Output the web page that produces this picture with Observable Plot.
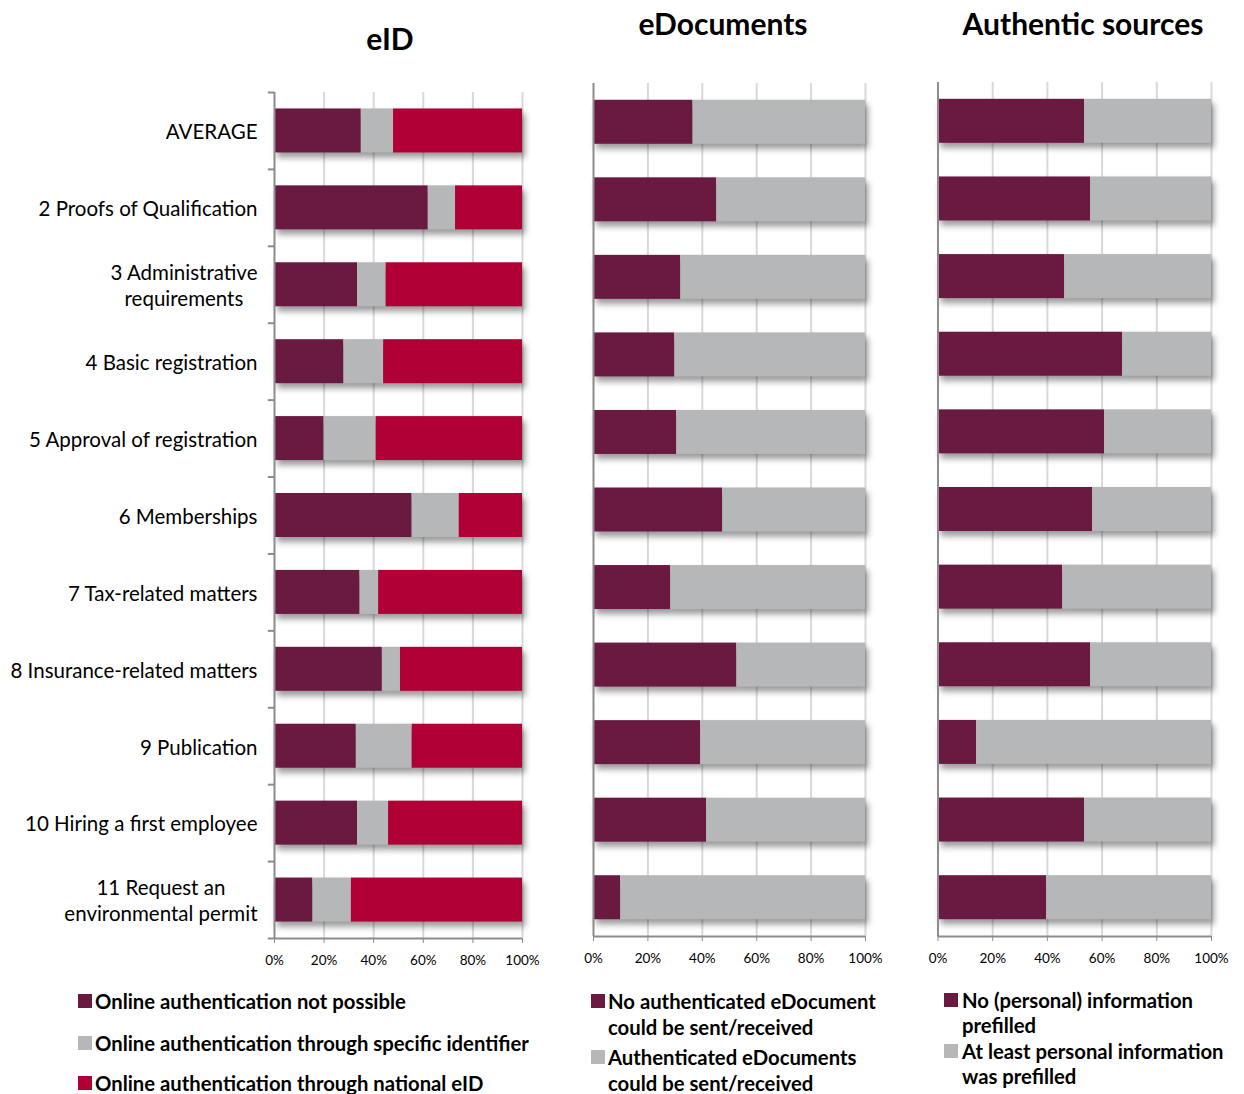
<!DOCTYPE html>
<html><head><meta charset="utf-8">
<script src="https://cdn.jsdelivr.net/npm/d3@7"></script>
<script src="https://cdn.jsdelivr.net/npm/@observablehq/plot@0.6"></script>
<style>
body{margin:0;background:#fff;}
#root{position:relative;width:1244px;height:1094px;overflow:hidden;font-family:Lato,"Open Sans",sans-serif;color:#000}
.panel{position:absolute;top:0}
.title{position:absolute;font-weight:700;font-size:30px;transform:translate(-50%,-50%);white-space:nowrap}
.leg{position:absolute;font-weight:700;font-size:20.3px;line-height:20px;height:20px;white-space:nowrap}
.sw{position:absolute;width:14px;height:14px}
g[aria-label="bar"]{filter:drop-shadow(3px 5px 3px rgba(0,0,0,0.4))}
</style></head>
<body><div id="root"></div>
<script>
const categories = ["AVERAGE","2 Proofs of Qualification","3 Administrative\nrequirements","4 Basic registration","5 Approval of registration","6 Memberships","7 Tax-related matters","8 Insurance-related matters","9 Publication","10 Hiring a first employee","11 Request an\nenvironmental permit"];
const xTicks = [0,20,40,60,80,100];

const eidSeries = ["Online authentication not possible","Online authentication through specific identifier","Online authentication through national eID"];
const eidNotPossible = [35,62,33.5,28,20,55.5,34.5,43.5,33,33.5,15.5];
const eidSpecific   = [13,11,11.5,16,21,19,7.5,7.3,22.5,12.5,15.5];
const eidNational   = [52,27,55,56,59,25.5,58,49.2,44.5,54,69];

const edocSeries = ["No authenticated eDocument\ncould be sent/received","Authenticated eDocuments\ncould be sent/received"];
const edocNo  = [36.6,45.3,32.1,29.9,30.6,47.5,28.4,52.7,39.4,41.6,10];
const edocYes = [63.4,54.7,67.9,70.1,69.4,52.5,71.6,47.3,60.6,58.4,90];

const authSeries = ["No (personal) information\nprefilled","At least personal information\nwas prefilled"];
const authNo  = [53.6,55.8,46.3,67.5,60.9,56.5,45.6,55.8,14.1,53.6,39.7];
const authYes = [46.4,44.2,53.7,32.5,39.1,43.5,54.4,44.2,85.9,46.4,60.3];

const titles = ["eID","eDocuments","Authentic sources"];
const DARK="#6A1A41", GRAY="#B6B7B9", RED="#B10036";

const root = document.getElementById("root");

function long(series, arrays){
  const out=[];
  series.forEach((s,i)=>arrays[i].forEach((v,j)=>out.push({category:categories[j],series:s,value:v})));
  return out;
}

function panel(o){
  const H=975;
  const step=(H-o.mt-o.mb)/categories.length;
  const inset=(step-44)/2;
  const marks=[
    Plot.ruleX([20,40,60,80,100],{stroke:"#d9d9d9",strokeWidth:2}),
    Plot.barX(o.data, Plot.stackX({x:"value",y:"category",fill:"series",order:o.series,insetTop:inset,insetBottom:inset})),
    Plot.ruleX([0],{stroke:"#8c8c8c",strokeWidth:2}),
    Plot.ruleY([categories[categories.length-1]],{x1:0,x2:100,dy:step/2,stroke:"#8c8c8c",strokeWidth:2}),
    Plot.axisX(xTicks,{tickSize:5,tickPadding:12,stroke:"#8c8c8c",fontSize:13.5,label:null,tickFormat:d=>d+"%"})
  ];
  if(o.showY){
    marks.push(Plot.ruleY(categories,{x1:-2.5,x2:0,dy:-step/2,stroke:"#8c8c8c",strokeWidth:2}));
    marks.push(Plot.ruleY([categories[categories.length-1]],{x1:-2.5,x2:0,dy:step/2,stroke:"#8c8c8c",strokeWidth:2}));
    marks.push(Plot.axisY({tickSize:0,tickPadding:17,fontSize:20.5,lineHeight:1.27,label:null}));
  }
  const svg=Plot.plot({
    width:o.width,height:H,
    marginLeft:o.ml,marginRight:o.mr,marginTop:o.mt,marginBottom:o.mb,
    x:{domain:[0,100],axis:null,label:null},
    y:{domain:categories,padding:0,round:false,axis:null,label:null},
    color:{domain:o.series,range:o.colors},
    style:{fontFamily:"Lato, 'Open Sans', sans-serif",color:"#000",background:"transparent",overflow:"visible"},
    marks
  });
  const wrap=document.createElement("div");
  wrap.className="panel";
  wrap.style.left=o.left+"px";
  wrap.appendChild(svg);
  root.appendChild(wrap);
  if(o.showY){
    svg.querySelectorAll('g[aria-label="y-axis tick label"] text').forEach(t=>{
      const sp=[...t.querySelectorAll("tspan")];
      if(sp.length>1){
        const ws=sp.map(s=>s.getComputedTextLength());
        const m=Math.max(...ws);
        sp.forEach((s,i)=>s.setAttribute("x",-(m-ws[i])/2));
      }
    });
  }
}

panel({left:0,width:545,ml:274,mr:23,mt:92,mb:37,showY:true,series:eidSeries,colors:[DARK,GRAY,RED],
  data:long(eidSeries,[eidNotPossible,eidSpecific,eidNational])});
panel({left:560,width:320,ml:33,mr:15,mt:83,mb:39,showY:false,series:edocSeries,colors:[DARK,GRAY],
  data:long(edocSeries,[edocNo,edocYes])});
panel({left:905,width:330,ml:32.5,mr:24,mt:82,mb:39,showY:false,series:authSeries,colors:[DARK,GRAY],
  data:long(authSeries,[authNo,authYes])});

// titles
[[titles[0],390,38],[titles[1],723,23],[titles[2],1083,23]].forEach(([t,x,y])=>{
  const d=document.createElement("div");d.className="title";d.textContent=t;
  d.style.left=x+"px";d.style.top=y+"px";root.appendChild(d);
});

// legends: first-line centre y, line spacing
function legItem(label,color,sx,tx,cy,gap){
  const s=document.createElement("div");s.className="sw";s.style.background=color;
  s.style.left=sx+"px";s.style.top=(cy-7)+"px";root.appendChild(s);
  label.split("\n").forEach((l,i)=>{
    const d=document.createElement("div");d.className="leg";
    d.style.left=tx+"px";d.style.top=(cy-10+i*gap)+"px";
    d.textContent=l;root.appendChild(d);
  });
}
legItem(eidSeries[0],DARK,78,95,1001,26);
legItem(eidSeries[1],GRAY,78,95,1043,26);
legItem(eidSeries[2],RED,78,95,1083,26);
legItem(edocSeries[0],DARK,591,608,1001,26);
legItem(edocSeries[1],GRAY,591,608,1057,26);
legItem(authSeries[0],DARK,944,962,1000,25);
legItem(authSeries[1],GRAY,944,962,1051,25);
</script></body></html>
